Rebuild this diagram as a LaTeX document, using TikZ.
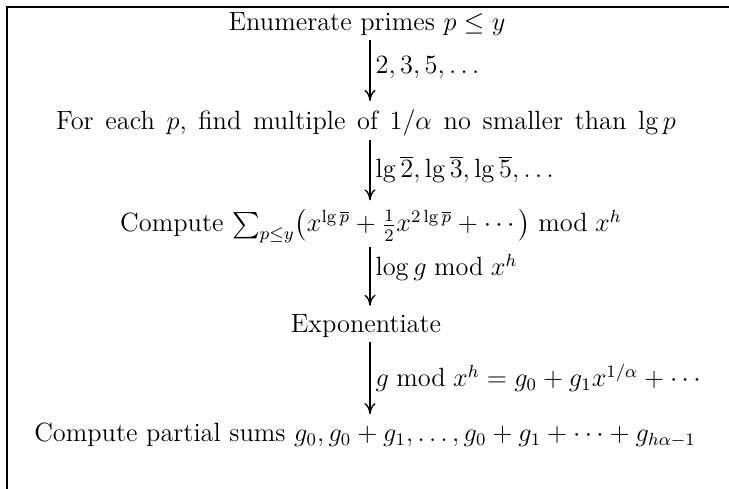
\documentclass[tikz,border=0pt]{standalone}
\usepackage{amsmath}
\usetikzlibrary{arrows.meta,positioning,calc}
\tikzset{
  stage/.style={inner sep=1pt, anchor=base, font=\large},
  flow/.style={-{To[length=5pt,width=5pt]}, line width=0.6pt, shorten >=3pt},
  flowlabel/.style={inner sep=1pt, anchor=base west, font=\large},
}

\begin{document}
\begin{tikzpicture}[x=0.455pt,y=-0.455pt]
    \useasboundingbox (0,0) rectangle (729,489);
    \draw[line width=0.9pt] (7,489) -- (7,7) -- (729,7);
    \coordinate (spine) at (370,0);
    % the five stages
    \node[stage] (enum) at (367,31) {Enumerate primes $p\le y$};
    \node[stage] (mult) at (366,130) {\spaceskip=5.3pt plus 1pt For each $p$, find multiple of $1/\alpha$ no smaller than $\lg p$};
    \node[stage] (series) at (371,232) {Compute $\sum_{p\le y}\bigl(x^{\lg\overline{p}}+\frac{1}{2}x^{2\lg\overline{p}}+\cdots\bigr)\bmod x^h$};
    \node[stage] (expo) at (366,333) {Exponentiate};
    \node[stage] (partial) at (365,442) {Compute partial sums $g_0, g_0+g_1, \ldots, g_0+g_1+\cdots+g_{h\alpha-1}$};
    % arrows between them
    \draw[flow] (enum.south -| spine) ++(0,1) coordinate (a1) -- (mult.north -| spine);
    \draw[flow] (mult.south -| spine) ++(0,1) coordinate (a2) -- (series.north -| spine);
    \draw[flow] (series.south -| spine) ++(0,1) coordinate (a3) -- (expo.north -| spine);
    \draw[flow] (expo.south -| spine) ++(0,1) coordinate (a4) -- (partial.north -| spine);
    \node[flowlabel] (l1) at (373,74) {$2, 3, 5, \ldots$};
    \node[flowlabel] (l2) at (373,178) {$\lg\overline{2}, \lg\overline{3}, \lg\overline{5}, \ldots$};
    \node[flowlabel] (l3) at (373,276) {$\log g\bmod x^h$};
    \node[flowlabel] (l4) at (373,387) {$g\bmod x^h = g_0 + g_1x^{1/\alpha} + \cdots$};
\end{tikzpicture}
\end{document}
